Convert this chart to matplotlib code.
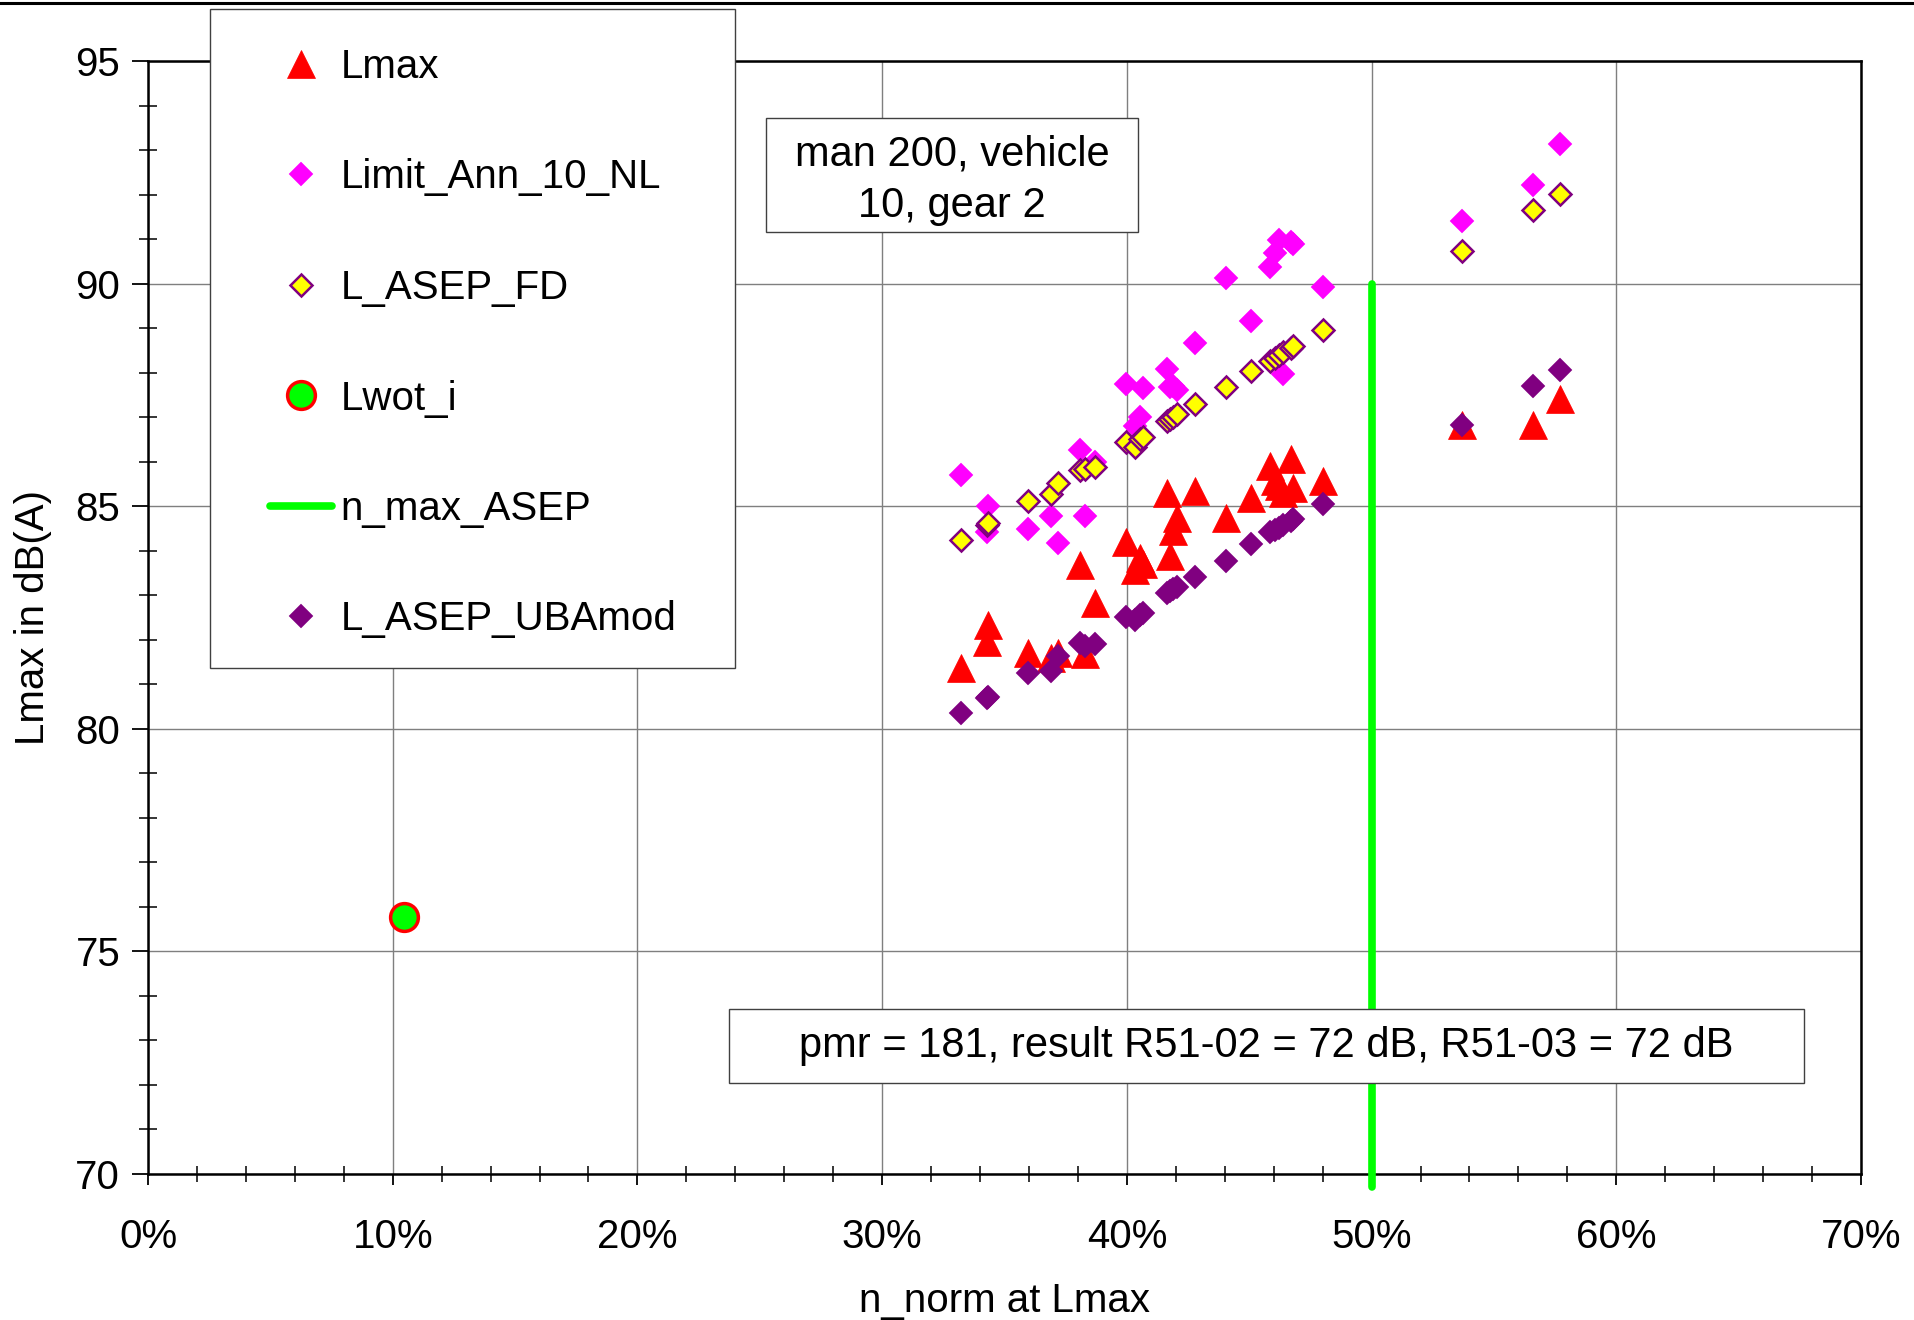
import numpy as np
import matplotlib
matplotlib.use('Agg')
import matplotlib.pyplot as plt
from matplotlib.lines import Line2D
from matplotlib.patches import Rectangle
from matplotlib.ticker import FuncFormatter, MultipleLocator

plt.rcParams['font.family'] = ['Liberation Sans', 'DejaVu Sans']

# ---------------- data (n_norm in %) ----------------
n_norm = [33.23, 34.27, 34.31, 35.97, 36.88, 37.20, 38.08, 38.29, 38.69, 39.98,
          40.33, 40.55, 40.65, 41.65, 41.75, 41.90, 42.05, 42.80, 44.07, 45.06,
          45.85, 46.05, 46.20, 46.40, 46.70, 46.80, 48.02, 53.71, 56.60, 57.72]
lmax = [81.36, 81.95, 82.33, 81.71, 81.58, 81.69, 83.68, 81.68, 82.83, 84.20,
        83.56, 83.83, 83.70, 85.30, 83.88, 84.45, 84.73, 85.34, 84.73, 85.18,
        85.90, 85.57, 85.45, 85.30, 86.07, 85.40, 85.57, 86.82, 86.82, 87.40]
limit_ann_10_nl = [85.69, 84.42, 85.00, 84.49, 84.78, 84.18, 86.27, 84.77, 86.00, 87.74,
                   86.80, 87.00, 87.65, 88.08, 87.68, 87.70, 87.61, 88.67, 90.12, 89.16,
                   90.38, 90.68, 90.97, 87.98, 90.94, 90.90, 89.92, 91.41, 92.22, 93.13]
l_asep_fd = [84.23, 84.58, 84.62, 85.12, 85.27, 85.51, 85.81, 85.84, 85.87, 86.43,
             86.33, 86.50, 86.55, 86.91, 86.95, 87.00, 87.07, 87.30, 87.68, 88.04,
             88.27, 88.33, 88.40, 88.47, 88.56, 88.60, 88.96, 90.74, 91.65, 92.01]
l_asep_ubamod = [80.36, 80.70, 80.72, 81.24, 81.30, 81.63, 81.92, 81.85, 81.90, 82.52,
                 82.45, 82.55, 82.60, 83.05, 83.10, 83.14, 83.19, 83.40, 83.77, 84.16,
                 84.42, 84.47, 84.52, 84.58, 84.67, 84.70, 85.05, 86.82, 87.70, 88.06]
lwot_x = [10.46]
lwot_y = [75.77]
nmax_x = [50.0, 50.0]
nmax_y = [90.0, 69.7]

x_ticks = [0, 10, 20, 30, 40, 50, 60, 70]
y_ticks = [70, 75, 80, 85, 90, 95]

title_text = "man 200, vehicle\n10, gear 2"
result_text = "pmr = 181, result R51-02 = 72 dB, R51-03 = 72 dB"

# ---------------- figure ----------------
W, H = 1915, 1320
fig = plt.figure(figsize=(W / 100, H / 100), dpi=100)


def fx(px):
    return px / W


def fy(py):
    return 1 - py / H


ax = fig.add_axes([fx(148), fy(1173.7), fx(1861) - fx(148), fy(61.1) - fy(1173.7)])
ax.set_xlim(0, 70)
ax.set_ylim(70, 95)
ax.set_xticks(x_ticks)
ax.xaxis.set_minor_locator(MultipleLocator(2))
ax.set_yticks(y_ticks)
ax.yaxis.set_minor_locator(MultipleLocator(1))
ax.xaxis.set_major_formatter(FuncFormatter(lambda v, p: f"{v:.0f}%"))
ax.grid(which='major', color='#7f7f7f', lw=1.0, zorder=0)
ax.set_axisbelow(True)
for s in ax.spines.values():
    s.set_linewidth(1.8)
    s.set_color('black')

ax.tick_params(axis='x', which='major', direction='out', length=8, width=1.3,
               labelsize=29, pad=24)
ax.tick_params(axis='x', which='minor', direction='inout', length=11.5, width=1.1)
ax.tick_params(axis='y', which='major', direction='out', length=11.5, width=1.3,
               labelsize=29, pad=8.5)
ax.tick_params(axis='y', which='minor', direction='inout', length=13, width=1.1)

ax.set_ylabel('Lmax in dB(A)', fontsize=29, va='center')
ax.yaxis.set_label_coords(-0.0671, 0.5)
ax.set_xlabel('n_norm at Lmax', fontsize=29, va='center')
ax.xaxis.set_label_coords(0.5, -0.1142)

RED = '#FF0000'
MAG = '#FF00FF'
YEL = '#FFFF00'
PUR = '#800080'
GRN = '#00FF00'

st_lmax = dict(marker='^', ls='none', ms=20, mfc=RED, mec=RED, mew=0.5)
st_lim = dict(marker='D', ls='none', ms=12.3, mfc=MAG, mec=MAG, mew=0.3)
st_fd = dict(marker='D', ls='none', ms=11.2, mfc=YEL, mec=PUR, mew=1.8)
st_wot = dict(marker='o', ls='none', ms=20, mfc=GRN, mec=RED, mew=2.5)
st_nmax = dict(color=GRN, lw=5.5, solid_capstyle='round')
st_uba = dict(marker='D', ls='none', ms=12.3, mfc=PUR, mec=PUR, mew=0.3)

ax.plot(n_norm, lmax, zorder=3, **st_lmax)
ax.plot(n_norm, limit_ann_10_nl, zorder=4, **st_lim)
ax.plot(n_norm, l_asep_fd, zorder=5, **st_fd)
ax.plot(lwot_x, lwot_y, zorder=6, **st_wot)
ax.plot(nmax_x, nmax_y, zorder=7, clip_on=False, **st_nmax)
ax.plot(n_norm, l_asep_ubamod, zorder=8, **st_uba)

# top figure rule
fig.add_artist(Line2D([0, 1], [fy(3), fy(3)], transform=fig.transFigure,
                      color='black', lw=2.2))

# legend frame + legend
fig.add_artist(Rectangle((fx(210), fy(668)), fx(735) - fx(210), fy(8.5) - fy(668),
                         transform=fig.transFigure, facecolor='white',
                         edgecolor='#404040', lw=1.0, zorder=3))
handles = [Line2D([], [], **st_lmax), Line2D([], [], **st_lim), Line2D([], [], **st_fd),
           Line2D([], [], **st_wot), Line2D([], [], **st_nmax), Line2D([], [], **st_uba)]
labels = ['Lmax', 'Limit_Ann_10_NL', 'L_ASEP_FD', 'Lwot_i', 'n_max_ASEP', 'L_ASEP_UBAmod']
leg = fig.legend(handles, labels, loc='upper left', bbox_to_anchor=(fx(270), fy(48)),
                 frameon=False, borderpad=0, borderaxespad=0, fontsize=29,
                 labelspacing=1.8, handlelength=1.55, handletextpad=0.2)
leg.set_zorder(5)

# text boxes
fig.add_artist(Rectangle((fx(766), fy(232)), fx(1138) - fx(766), fy(118.5) - fy(232),
                         transform=fig.transFigure, facecolor='white',
                         edgecolor='#404040', lw=1.0, zorder=3))
fig.text(fx(952), fy(180), title_text, ha='center', va='center', fontsize=30,
         linespacing=1.36, zorder=5)

fig.add_artist(Rectangle((fx(729), fy(1083)), fx(1804) - fx(729), fy(1009) - fy(1083),
                         transform=fig.transFigure, facecolor='white',
                         edgecolor='#404040', lw=1.0, zorder=3))
fig.text(fx(1266.5), fy(1046.5), result_text, ha='center', va='center', fontsize=30, zorder=5)

fig.savefig('out.png', dpi=100, facecolor='white')
